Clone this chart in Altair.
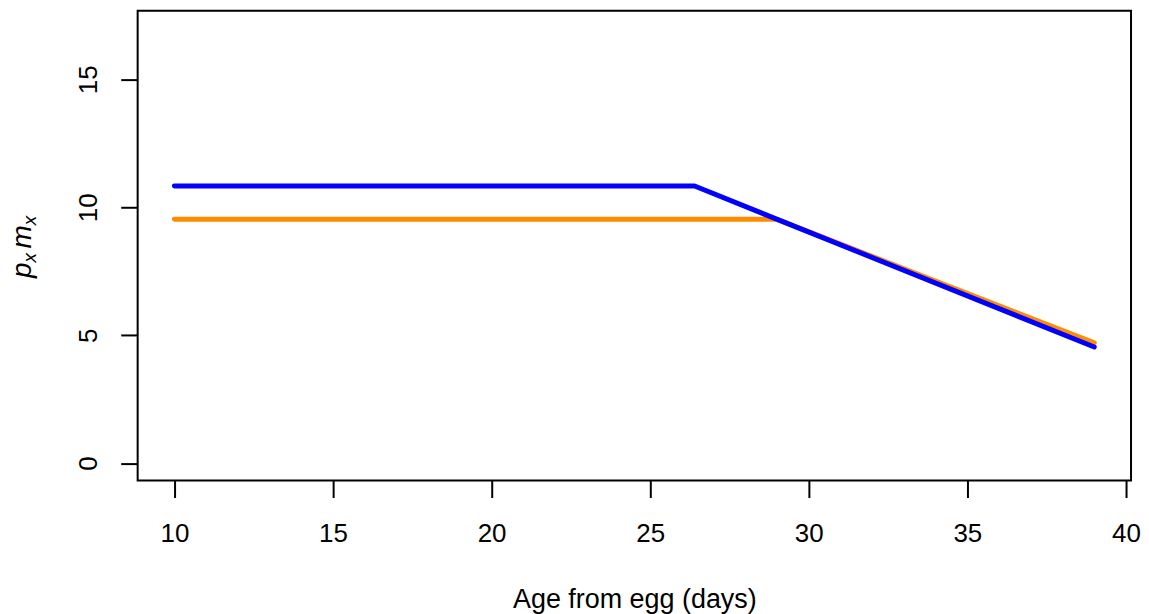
import altair as alt
import pandas as pd

# Data
orange_age = [10, 29.0, 39]
orange_val = [9.53, 9.53, 4.70]
blue_age = [10, 26.4, 39]
blue_val = [10.83, 10.83, 4.54]

x_ticks = [10, 15, 20, 25, 30, 35, 40]
y_ticks = [0, 5, 10, 15]

x_title = "Age from egg (days)"
y_title_main = ["p", "m"]
y_title_sub = "x"

df_o = pd.DataFrame({"age": orange_age, "val": orange_val})
df_b = pd.DataFrame({"age": blue_age, "val": blue_val})

FONT = "Liberation Sans"

xscale = alt.Scale(domain=[8.84, 40.16], nice=False, zero=False)
yscale = alt.Scale(domain=[-0.68, 17.68], nice=False, zero=False)

xaxis = alt.Axis(
    values=x_ticks, grid=False, domain=False,
    tickColor="black", tickWidth=2, tickSize=17,
    labelFont=FONT, labelFontSize=26, labelColor="black",
    labelBaseline="alphabetic", labelPadding=44, labelFlush=False,
    title=x_title, titleFont=FONT, titleFontSize=27,
    titleFontWeight="normal", titleColor="black",
    titleBaseline="alphabetic", titleY=127,
)
yaxis = alt.Axis(
    values=y_ticks, grid=False, domain=False,
    tickColor="black", tickWidth=2, tickSize=17,
    labelFont=FONT, labelFontSize=26, labelColor="black",
    labelAngle=270, labelAlign="center", labelBaseline="alphabetic",
    labelPadding=24, labelFlush=False,
    title=None,
)

orange = alt.Chart(df_o).mark_line(
    color="#FF8C00", strokeWidth=5, strokeCap="round", strokeJoin="round"
).encode(
    x=alt.X("age:Q", scale=xscale, axis=xaxis),
    y=alt.Y("val:Q", scale=yscale, axis=yaxis),
)
blue = alt.Chart(df_b).mark_line(
    color="#0000FF", strokeWidth=5, strokeCap="round", strokeJoin="round"
).encode(
    x=alt.X("age:Q", scale=xscale),
    y=alt.Y("val:Q", scale=yscale),
)


def title_piece(txt, size, xpos, ypos):
    return alt.Chart(pd.DataFrame({"t": [txt]})).mark_text(
        angle=270, align="left", baseline="alphabetic",
        font=FONT, fontStyle="italic", fontSize=size, color="black",
    ).encode(x=alt.value(xpos), y=alt.value(ypos), text="t:N")


ylab = [
    title_piece(y_title_main[0], 28, -107, 268),
    title_piece(y_title_sub, 19, -102, 252.4),
    title_piece(y_title_main[1], 28, -107, 238.4),
    title_piece(y_title_sub, 19, -102, 215),
]

chart = alt.layer(orange, blue, *ylab).properties(
    width=996, height=471,
    autosize=alt.AutoSizeParams(type="none"),
    padding={"left": 130, "top": 2, "right": 10, "bottom": 133},
    background="white",
).configure_view(stroke="black", strokeWidth=2)

chart.save("out.html", embed_options={"renderer": "svg", "actions": False})
